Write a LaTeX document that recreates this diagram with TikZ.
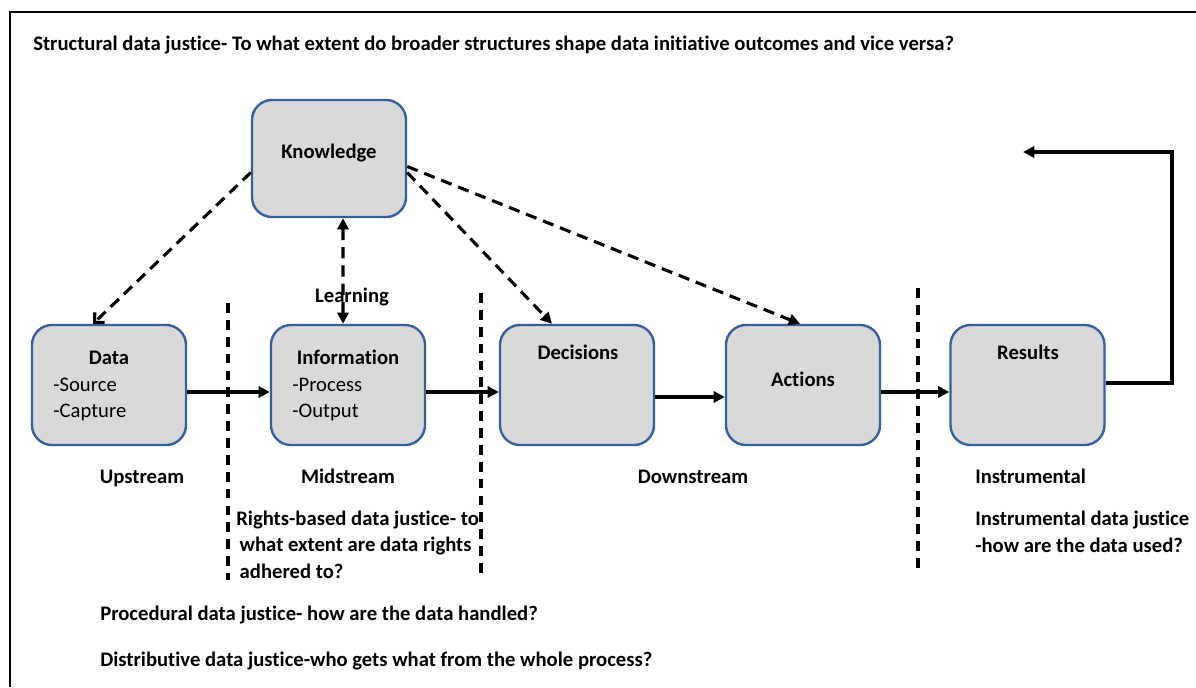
\documentclass[tikz,border=0pt]{standalone}
\usepackage{fontspec}
\setmainfont{Carlito}[Ligatures={NoCommon,NoContextual,NoRare}, Contextuals=NoAlternate]
\usetikzlibrary{arrows.meta}
\definecolor{boxgray}{HTML}{D9D9D9}
\definecolor{boxblue}{HTML}{3560A0}
\newcommand{\figfont}{\fontsize{14.7pt}{18.8pt}\selectfont}
\tikzset{
  box/.style={draw=boxblue, fill=boxgray, line width=1.7pt, rounded corners=0.5cm,
    minimum width=3.85cm, minimum height=3cm, inner sep=0pt},
  lbl/.style={font=\figfont\bfseries, inner sep=0pt, anchor=base},
  txt/.style={font=\figfont\bfseries, inner sep=0pt, anchor=base west, align=left},
  item/.style={font=\figfont, inner sep=0pt, anchor=base west},
  flow/.style={line width=2.2pt, -{Triangle[length=8pt,width=8pt]}},
  link/.style={line width=2.2pt, dash pattern=on 8pt off 5pt, -{Triangle[length=8pt,width=8pt]}},
  divider/.style={line width=2.2pt, dash pattern=on 7pt off 5pt},
}
\begin{document}
\begin{tikzpicture}[x=0.025cm, y=-0.025cm]
\useasboundingbox (0,0) rectangle (1196,687);
% Rahmen
\draw[line width=2pt] (10,687) -- (10,12) -- (1196,12);
\node[txt] (title) at (33,50) {Structural data justice- To what extent do broader structures shape data initiative outcomes and vice versa?};

% Kaesten
\node[box, minimum height=2.925cm] (knowl) at (329,158.5) {};
\node[box] (data) at (109,385) {};
\node[box] (info) at (348,385) {};
\node[box] (dec) at (577,385) {};
\node[box] (act) at (803,385) {};
\node[box] (res) at (1027.5,385) {};

\node[lbl] (tknowl) at (329,158) {Knowledge};
\node[lbl] (tdata) at (109,364) {Data};
\node[item] (tsrc) at (53,391) {-Source};
\node[item] (tcap) at (53,417) {-Capture};
\node[lbl] (tinfo) at (348,364) {Information};
\node[item] (tproc) at (292,391) {-Process};
\node[item] (tout) at (292,417) {-Output};
\node[lbl] (tdec) at (578,359) {Decisions};
\node[lbl] (tact) at (803,386) {Actions};
\node[lbl] (tres) at (1028,359) {Results};

% Trennlinien
\draw[divider] (228,303) -- (228,580);
\draw[divider] (481,293) -- (481,576);
\draw[divider] (918,288) -- (918,574);

% Hauptfluss
\draw[flow] ([yshift=-0.175cm]data.east) -- ([yshift=-0.175cm]info.west);
\draw[flow] ([yshift=-0.175cm]info.east) -- ([yshift=-0.175cm]dec.west);
\draw[flow] ([yshift=-0.3cm]dec.east) -- ([yshift=-0.3cm]act.west);
\draw[flow] ([yshift=-0.175cm]act.east) -- ([yshift=-0.175cm]res.west);
\coordinate (loopturn) at (1172,152);
\coordinate (loopend) at (1023,152);
\draw[flow] ([yshift=0.05cm]res.east) -| (loopturn) -- (loopend);

% Wissen
\draw[link, -{Straight Barb[length=5pt,width=10pt]}] ([yshift=-0.35cm]knowl.west) -- ([xshift=-0.4cm]data.north);
\draw[link, {Triangle[length=8pt,width=8pt]}-{Triangle[length=8pt,width=8pt]}] ([xshift=0.35cm]knowl.south) -- ([xshift=-0.125cm]info.north);
\draw[link] ([yshift=-0.35cm]knowl.east) -- ([xshift=-0.625cm]dec.north);
\draw[link] ([yshift=-0.2cm]knowl.east) -- ([xshift=-0.075cm]act.north);
\node[lbl] (learn) at (352,302) {Learning};

% Beschriftungen
\node[lbl] (up) at (142,483) {Upstream};
\node[lbl] (mid) at (348,483) {Midstream};
\node[lbl] (down) at (693,483) {Downstream};
\node[txt] (instr) at (975,483) {Instrumental};
\node[txt] (rights) at (236,578) {Rights-based data justice- to\\\,what extent are data rights\\\,adhered to?};
\node[txt] (instrq) at (975,552) {Instrumental data justice\\-how are the data used?};
\node[txt] (proc) at (100,620) {Procedural data justice- how are the data handled?};
\node[txt] (distr) at (100,666) {Distributive data justice-who gets what from the whole process?};
\end{tikzpicture}
\end{document}
